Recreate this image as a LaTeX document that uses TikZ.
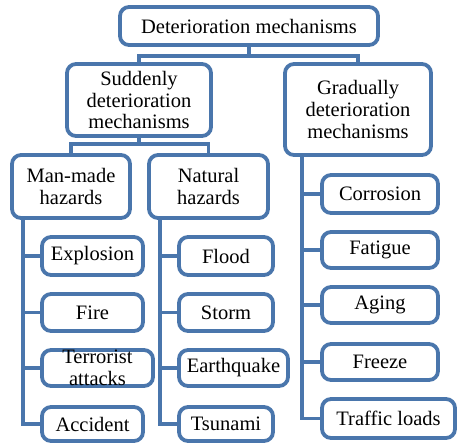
\documentclass[tikz,border=0pt]{standalone}
\usepackage{fontspec}
\setmainfont{Liberation Serif}
\usetikzlibrary{positioning}

\definecolor{boxblue}{RGB}{74,118,172}

\begin{document}
\begin{tikzpicture}[x=1pt,y=-1pt,
    box/.style={draw=boxblue,line width=3.8pt,fill=white,rounded corners=9pt,inner sep=0pt,align=center,
                font=\fontsize{20.5}{21.7}\selectfont},
    link/.style={draw=boxblue,line width=3.8pt}]
            \useasboundingbox (0,0) rectangle (457,445);

            \node[box,minimum width=258,minimum height=38] (top) at (249,26) {Deterioration mechanisms};
            \node[box,minimum width=144,minimum height=72] (sud) at (139,100) {Suddenly\\deterioration\\mechanisms};
            \node[box,minimum width=146,minimum height=91] (grad) at (358,109.5) {Gradually\\deterioration\\mechanisms};

            \node[box,minimum width=118,minimum height=63] (man) at (71,186.5) {Man-made\\hazards};
            \node[box,minimum width=119,minimum height=63] (nat) at (208.5,186.5) {Natural\\hazards};

            \node[box,minimum width=101,minimum height=38] (expl) at (92.5,256) {Explosion};
            \node[box,minimum width=101,minimum height=37] (fire) at (92.5,312.5) {Fire};
            \node[box,minimum width=111,minimum height=36] (terr) at (97.5,368) {Terrorist\\attacks};
            \node[box,minimum width=101,minimum height=34] (acc) at (92.5,424) {Accident};

            \node[box,minimum width=94,minimum height=38] (flood) at (226,256) {Flood};
            \node[box,minimum width=94,minimum height=37] (storm) at (226,312.5) {Storm};
            \node[box,minimum width=109,minimum height=36] (quake) at (233.5,368) {Earthquake};
            \node[box,minimum width=94,minimum height=34] (tsu) at (226,424) {Tsunami};

            \node[box,minimum width=116,minimum height=38] (corr) at (380,194) {Corrosion};
            \node[box,minimum width=116,minimum height=36] (fat) at (380,250) {Fatigue};
            \node[box,minimum width=116,minimum height=36] (aging) at (380,305) {Aging};
            \node[box,minimum width=116,minimum height=36] (freeze) at (380,362) {Freeze};
            \node[box,minimum width=133,minimum height=39] (traffic) at (388.5,418.5) {Traffic loads};

            % tree links
            \draw[link] (top.south) -- ++(0,9) coordinate (j1);
            \draw[link] (sud.north) |- (j1) -| (grad.north);
            \draw[link] (sud.south) -- ++(0,6) coordinate (j2);
            \draw[link] (man.north) |- (j2) -| (nat.north);

            \foreach \n in {expl,fire,terr,acc}
              \draw[link] ([xshift=13]man.south west) |- (\n.west);
            \foreach \n in {flood,storm,quake,tsu}
              \draw[link] ([xshift=13]nat.south west) |- (\n.west);
            \foreach \n in {corr,fat,aging,freeze,traffic}
              \draw[link] ([xshift=19]grad.south west) |- (\n.west);
          \end{tikzpicture}
\end{document}
